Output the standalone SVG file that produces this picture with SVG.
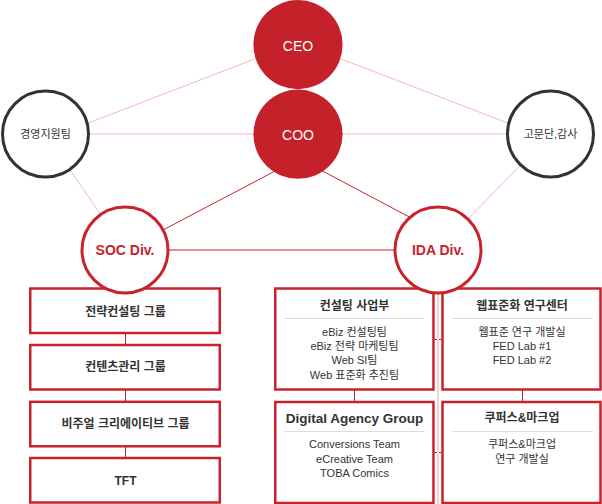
<svg xmlns="http://www.w3.org/2000/svg" width="602" height="504" viewBox="0 0 602 504">
<defs>
<style>
text{font-family:'Liberation Sans','Noto Sans CJK KR',sans-serif;text-anchor:middle}
.pink{stroke:#f3b9b9;stroke-width:1;fill:none}
.red{stroke:#c8232c;stroke-width:1;fill:none}
.box{fill:#fff;stroke:#c8232c;stroke-width:2.5}
.sep{stroke:#dcdcdc;stroke-width:1}
.fill{fill:#c4212a}
.ring{fill:#fff;stroke:#c8232c;stroke-width:3}
.gray{fill:#fff;stroke:#333;stroke-width:3}
.w{fill:#fff;font-size:14px}
.rt{fill:#c8232c;font-size:14px;font-weight:bold}
.dk{fill:#333;font-size:11px}
.bt{fill:#333;font-size:12px;font-weight:bold}
.it{fill:#333;font-size:11px}
</style>
</defs>
<g id="connectors">
<line class="pink" x1="298" y1="42.3" x2="45.5" y2="139.5"/>
<line class="pink" x1="298" y1="42.3" x2="550.5" y2="139.5"/>
<line class="pink" x1="45.5" y1="134" x2="550.5" y2="134"/>
<line class="pink" x1="45.5" y1="134" x2="125" y2="250"/>
<line class="pink" x1="550.5" y1="134" x2="438" y2="250"/>
<line class="red" x1="298" y1="159" x2="125" y2="250"/>
<line class="red" x1="298" y1="158" x2="415" y2="220"/>
<line class="red" x1="125" y1="250" x2="438" y2="250"/>
<line class="red" x1="125.5" y1="333" x2="125.5" y2="346"/>
<line class="red" x1="125.5" y1="389" x2="125.5" y2="403"/>
<line class="red" x1="125.5" y1="446" x2="125.5" y2="459"/>
<line class="red" x1="354.5" y1="389" x2="354.5" y2="403"/>
<line class="red" x1="522.5" y1="389" x2="522.5" y2="403"/>
<line class="red" x1="433" y1="339.5" x2="443" y2="339.5"/>
<line class="red" x1="433" y1="452.5" x2="443" y2="452.5"/>
<line stroke="#f5d3d3" stroke-width="2" x1="438" y1="288" x2="438" y2="504"/>
</g>
<g id="box-strategy">
<rect class="box" x="30.25" y="288.5" width="189.5" height="44.5"/>
<text class="bt" x="125.5" y="315.5">전략컨설팅 그룹</text>
</g>
<g id="box-contents">
<rect class="box" x="30.25" y="345" width="189.5" height="44.5"/>
<text class="bt" x="125.5" y="371.2">컨텐츠관리 그룹</text>
</g>
<g id="box-visual">
<rect class="box" x="30.25" y="401.8" width="189.5" height="44.5"/>
<text class="bt" x="125.5" y="427.8">비주얼 크리에이티브 그룹</text>
</g>
<g id="box-tft">
<rect class="box" x="30.25" y="458" width="189.5" height="44.5"/>
<text class="bt" x="125.5" y="484.5">TFT</text>
</g>
<g id="box-consulting">
<rect class="box" x="275.25" y="288.5" width="158.2" height="101"/>
<line class="sep" x1="284" y1="318.5" x2="425" y2="318.5"/>
<text class="bt" x="354.5" y="309.5">컨설팅 사업부</text>
<text class="it" x="354.5" y="335.7">eBiz 컨설팅팀</text>
<text class="it" x="354.5" y="350">eBiz 전략 마케팅팀</text>
<text class="it" x="354.5" y="364.2">Web SI팀</text>
<text class="it" x="354.5" y="379">Web 표준화 추진팀</text>
</g>
<g id="box-webstandard">
<rect class="box" x="442.5" y="288.5" width="158" height="101"/>
<line class="sep" x1="452" y1="318.5" x2="593" y2="318.5"/>
<text class="bt" x="522" y="309.5">웹표준화 연구센터</text>
<text class="it" x="522" y="335.7">웹표준 연구 개발실</text>
<text class="it" x="522" y="350">FED Lab #1</text>
<text class="it" x="522" y="364.2">FED Lab #2</text>
</g>
<g id="box-digital">
<rect class="box" x="275.25" y="402" width="158.2" height="101"/>
<line class="sep" x1="284" y1="431.5" x2="425" y2="431.5"/>
<text class="bt" x="354.5" y="422.5" style="font-size:13.5px">Digital Agency Group</text>
<text class="it" x="354.5" y="448.3">Conversions Team</text>
<text class="it" x="354.5" y="463.3">eCreative Team</text>
<text class="it" x="354.5" y="477.3">TOBA Comics</text>
</g>
<g id="box-markup">
<rect class="box" x="442.5" y="402" width="158" height="101"/>
<line class="sep" x1="452" y1="431.5" x2="593" y2="431.5"/>
<text class="bt" x="522" y="422">쿠퍼스&amp;마크업</text>
<text class="it" x="522" y="448.3">쿠퍼스&amp;마크업</text>
<text class="it" x="522" y="463.3">연구 개발실</text>
</g>
<g id="node-ceo">
<circle class="fill" cx="298" cy="44.6" r="44.6"/>
<text class="w" x="298" y="50.5">CEO</text>
</g>
<g id="node-coo">
<circle class="fill" cx="298" cy="134.2" r="44.6"/>
<text class="w" x="298" y="139.5">COO</text>
</g>
<g id="node-support">
<circle class="gray" cx="45.5" cy="134" r="43"/>
<text class="dk" x="45.5" y="138">경영지원팀</text>
</g>
<g id="node-advisory">
<circle class="gray" cx="550.5" cy="134" r="43"/>
<text class="dk" x="550.5" y="138">고문단,감사</text>
</g>
<g id="node-soc">
<circle class="ring" cx="125" cy="250" r="43"/>
<text class="rt" x="125" y="255">SOC Div.</text>
</g>
<g id="node-ida">
<circle class="ring" cx="438" cy="250" r="43"/>
<text class="rt" x="438" y="255">IDA Div.</text>
</g>
</svg>
